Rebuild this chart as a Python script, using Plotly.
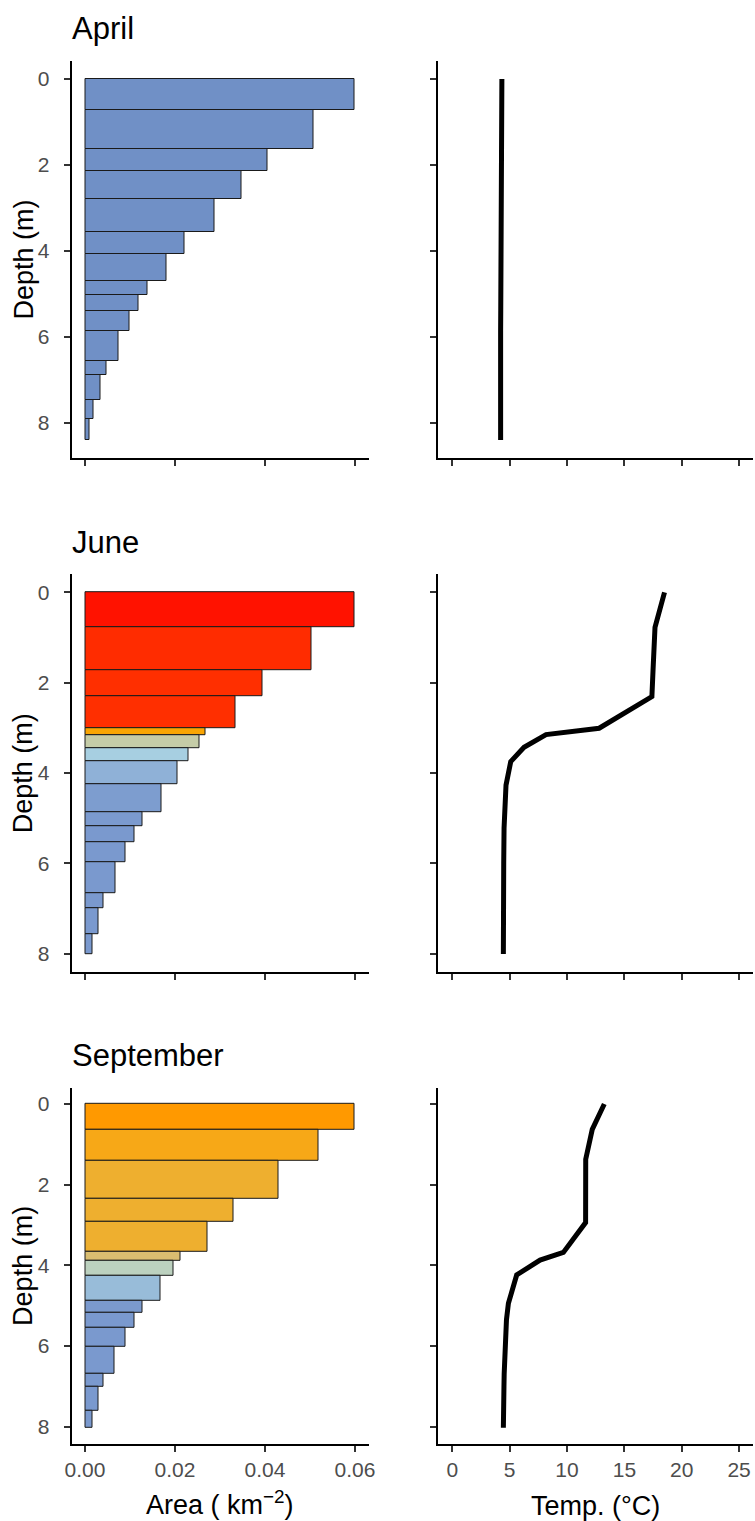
import plotly.graph_objects as go

# ---------------- data ----------------
months = ["April", "June", "September"]

# layer boundaries (m) and area of each layer (km^-2)
april_bounds = [0, 0.73, 1.62, 2.15, 2.80, 3.57, 4.07, 4.70, 5.02, 5.39, 5.86, 6.56, 6.88, 7.48, 7.91, 8.40]
april_area = [0.0599, 0.0508, 0.0405, 0.0348, 0.0287, 0.0221, 0.0181, 0.0139, 0.0119,
              0.0099, 0.0074, 0.0047, 0.0034, 0.0019, 0.0010]
april_fill = ["#7090C6"] * 15
april_temp_depth = [0, 0.73, 1.62, 2.15, 2.47, 2.80, 3.16, 3.57, 4.07, 4.70, 5.02, 5.39, 5.86, 6.56, 6.88, 7.48, 7.91, 8.40]
april_temp = [4.32, 4.32, 4.32, 4.31, 4.30, 4.28, 4.24, 4.23, 4.22, 4.22, 4.22, 4.22, 4.21, 4.21, 4.21, 4.21, 4.21, 4.21]

june_bounds = [0, 0.775, 1.72, 2.30, 3.01, 3.16, 3.45, 3.75, 4.24, 4.86, 5.17, 5.53, 5.98, 6.66, 7.00, 7.58, 8.01]
june_area = [0.0599, 0.0503, 0.0394, 0.0335, 0.0267, 0.0254, 0.0230, 0.0205, 0.0169,
             0.0127, 0.0110, 0.0091, 0.0067, 0.0041, 0.0029, 0.0016]
june_fill = ["#FF1200", "#FF2C00", "#FF2F00", "#FF2F00", "#F9A503", "#C5CCA7", "#A7CFE1",
             "#8FB1D7", "#7D9DCF", "#7B9ACE", "#7A99CE", "#7A99CE", "#7A99CE", "#7A99CE",
             "#7A99CE", "#7A99CE"]
june_temp_depth = [0, 0.775, 1.72, 2.31, 3.01, 3.15, 3.43, 3.75, 4.27, 4.86, 5.22, 5.98, 6.66, 7.00, 7.58, 8.01]
june_temp = [18.5, 17.67, 17.5, 17.4, 12.8, 8.17, 6.25, 5.09, 4.68, 4.56, 4.51, 4.48, 4.46, 4.45, 4.45, 4.45]

sept_bounds = [0, 0.636, 1.397, 2.34, 2.93, 3.67, 3.88, 4.26, 4.87, 5.17, 5.55, 6.01, 6.69, 7.02, 7.60, 8.03]
sept_area = [0.0599, 0.0519, 0.0430, 0.0330, 0.0273, 0.0213, 0.0196, 0.0168, 0.0127,
             0.0109, 0.0090, 0.0066, 0.0041, 0.0029, 0.0016]
sept_fill = ["#FF9900", "#F7A817", "#EEAF2F", "#EEAF2F", "#EEAF2F", "#D9BD70", "#BCD1BF",
             "#98BCD9", "#7B9ACE", "#7A99CE", "#7A99CE", "#7A99CE", "#7A99CE", "#7A99CE",
             "#7A99CE"]
sept_temp_depth = [0, 0.63, 1.37, 2.34, 2.94, 3.68, 3.87, 4.24, 4.94, 5.35, 5.93, 6.69, 7.02, 7.60, 8.03]
sept_temp = [13.25, 12.2, 11.63, 11.62, 11.62, 9.68, 7.65, 5.61, 4.89, 4.72, 4.6, 4.52, 4.5, 4.47, 4.45]

area_ticks = [0.00, 0.02, 0.04, 0.06]
area_tick_text = ["0.00", "0.02", "0.04", "0.06"]
temp_ticks = [0, 5, 10, 15, 20, 25]
depth_ticks = [0, 2, 4, 6, 8]

panels = [
    (april_bounds, april_area, april_fill, april_temp_depth, april_temp),
    (june_bounds, june_area, june_fill, june_temp_depth, june_temp),
    (sept_bounds, sept_area, sept_fill, sept_temp_depth, sept_temp),
]

# ---------------- layout geometry (pixels) ----------------
W, H = 755, 1521
left_px = (71.5, 368.5)
right_px = (438.0, 753.4)
rows_px = [(61.0, 458.0), (574.2, 972.2), (1087.8, 1444.0)]

FONT = "Liberation Sans, Arial, sans-serif"
TICK_COLOR = "#4D4D4D"


def xdom(px):
    return [px[0] / W, px[1] / W]


def ydom(px):
    return [1 - px[1] / H, 1 - px[0] / H]


def expand(lo, hi, frac=0.05):
    span = hi - lo
    return [lo - frac * span, hi + frac * span]


fig = go.Figure()
layout = dict(
    template="none",
    width=W, height=H,
    margin=dict(l=0, r=0, t=0, b=0, pad=0),
    paper_bgcolor="white", plot_bgcolor="white",
    showlegend=False,
    font=dict(family=FONT, color="black"),
    bargap=0,
)

annotations = []

for i, (bounds, area, fill, tdepth, temp) in enumerate(panels):
    last = i == len(panels) - 1
    xa_l, xa_r = 2 * i + 1, 2 * i + 2
    ya_l, ya_r = 2 * i + 1, 2 * i + 2
    centers = [(bounds[k] + bounds[k + 1]) / 2 for k in range(len(area))]
    widths = [bounds[k + 1] - bounds[k] for k in range(len(area))]

    fig.add_trace(go.Bar(
        x=area, y=centers, width=widths, base=0, orientation="h",
        marker=dict(color=fill, line=dict(color="#1A1A1A", width=1)),
        xaxis=f"x{xa_l}", yaxis=f"y{ya_l}", hoverinfo="x+y",
    ))
    fig.add_trace(go.Scatter(
        x=temp, y=tdepth, mode="lines",
        line=dict(color="black", width=5),
        xaxis=f"x{xa_r}", yaxis=f"y{ya_r}",
    ))

    yr = expand(0, bounds[-1])
    yr = [yr[1], yr[0]]
    common_axis = dict(
        showline=True, linecolor="black", linewidth=1.8,
        ticks="outside", ticklen=6, tickwidth=1.5, tickcolor="#333333",
        showgrid=False, zeroline=False, automargin=False,
        tickfont=dict(family=FONT, size=21, color=TICK_COLOR),
    )
    kx = "xaxis" if xa_l == 1 else f"xaxis{xa_l}"
    layout[kx] = dict(common_axis, domain=xdom(left_px), anchor=f"y{ya_l}",
                      range=expand(0, 0.06), tickvals=area_ticks,
                      ticktext=area_tick_text, showticklabels=last,
                      ticklabelstandoff=0)
    layout[f"xaxis{xa_r}"] = dict(common_axis, domain=xdom(right_px), anchor=f"y{ya_r}",
                                  range=expand(0, 25), tickvals=temp_ticks,
                                  showticklabels=last, ticklabelstandoff=0)
    ky = "yaxis" if ya_l == 1 else f"yaxis{ya_l}"
    layout[ky] = dict(common_axis, domain=ydom(rows_px[i]), anchor=f"x{xa_l}",
                      range=yr, tickvals=depth_ticks, showticklabels=True,
                      ticklabelstandoff=10)
    layout[f"yaxis{ya_r}"] = dict(common_axis, domain=ydom(rows_px[i]), anchor=f"x{xa_r}",
                                  range=yr, tickvals=depth_ticks, showticklabels=False)

    # month title
    annotations.append(dict(
        text=months[i], x=70 / W, y=1 - (rows_px[i][0] - 32) / H,
        xref="paper", yref="paper", xanchor="left", yanchor="middle",
        showarrow=False, font=dict(family=FONT, size=31, color="black"),
    ))
    # depth axis title
    annotations.append(dict(
        text="Depth (m)", x=23 / W, y=1 - (rows_px[i][0] + rows_px[i][1]) / 2 / H,
        xref="paper", yref="paper", xanchor="center", yanchor="middle",
        textangle=-90, showarrow=False, font=dict(family=FONT, size=27, color="black"),
    ))

annotations.append(dict(
    text="Area ( km<sup>\u22122</sup>)", x=(left_px[0] + left_px[1]) / 2 / W, y=1 - 1503 / H,
    xref="paper", yref="paper", xanchor="center", yanchor="middle",
    showarrow=False, font=dict(family=FONT, size=27, color="black"),
))
annotations.append(dict(
    text="Temp. (\u00b0C)", x=(right_px[0] + right_px[1]) / 2 / W, y=1 - 1506 / H,
    xref="paper", yref="paper", xanchor="center", yanchor="middle",
    showarrow=False, font=dict(family=FONT, size=27, color="black"),
))

layout["annotations"] = annotations
fig.update_layout(**layout)
fig.write_html("out.html")
